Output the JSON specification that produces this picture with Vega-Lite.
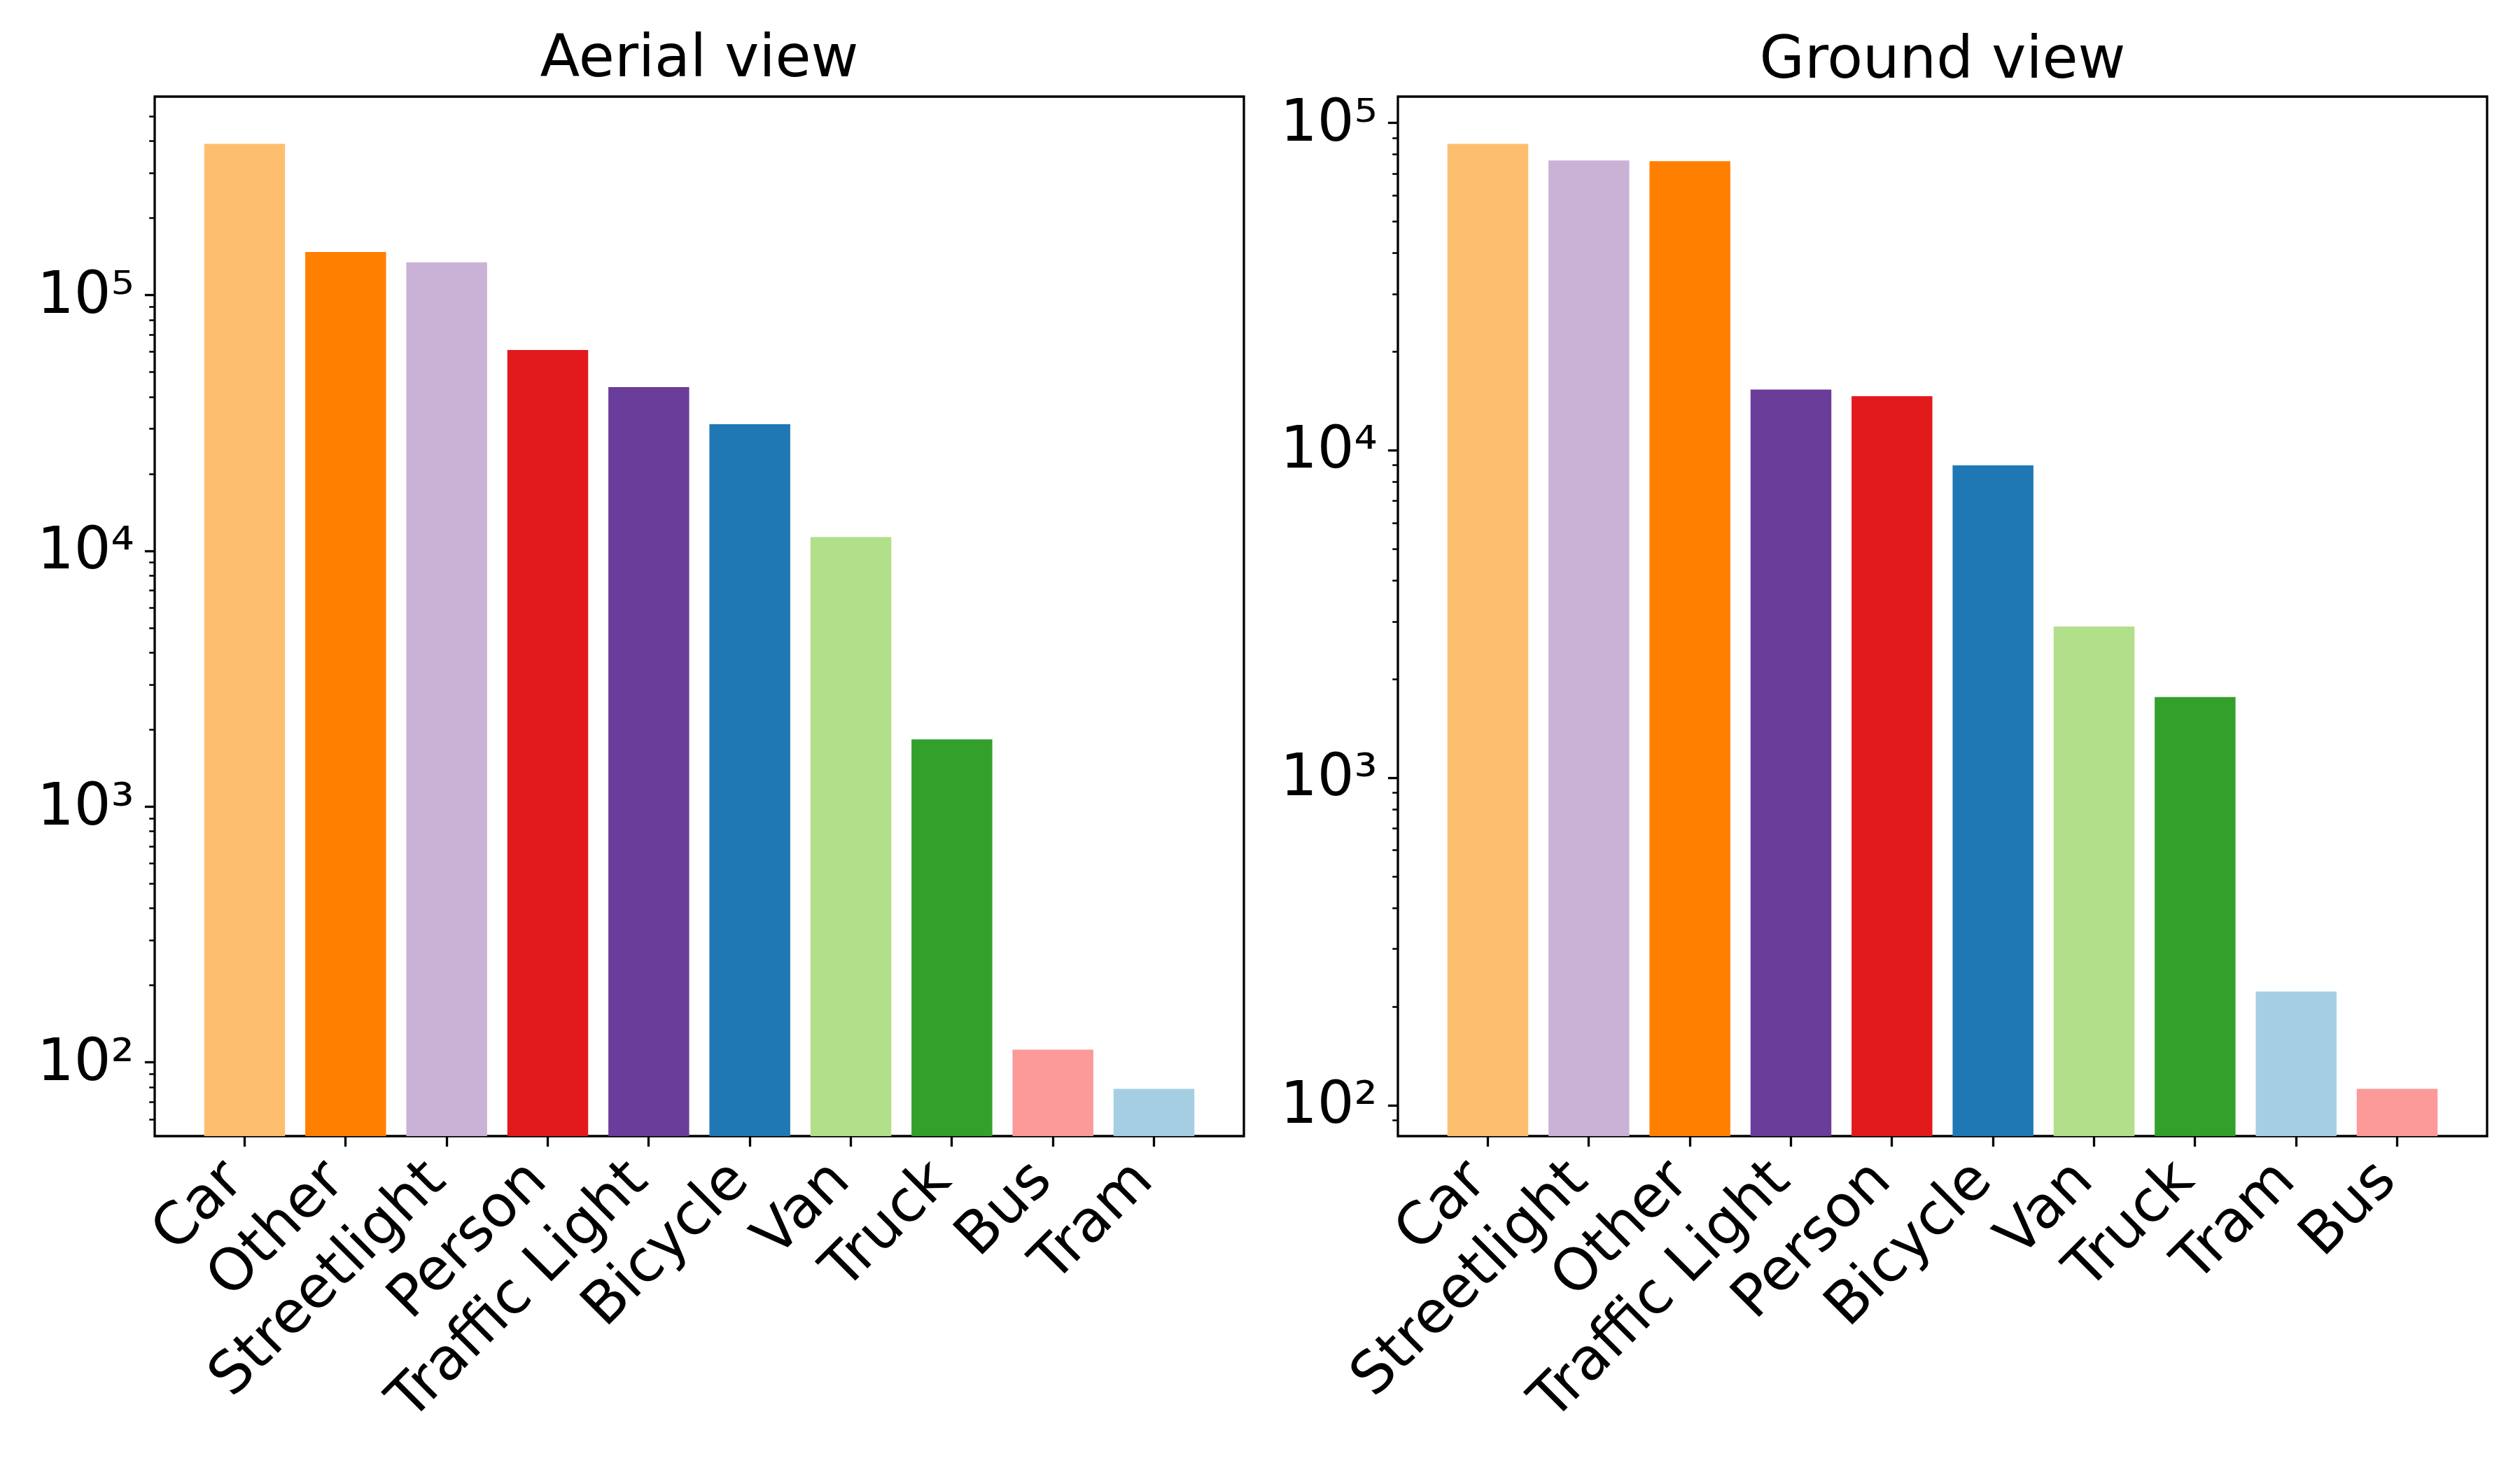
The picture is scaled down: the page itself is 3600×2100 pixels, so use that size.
{
  "$schema": "https://vega.github.io/schema/vega-lite/v6.json",
  "background": "white",
  "padding": {"left": 50, "top": 41, "right": 0, "bottom": 0},
  "bounds": "flush",
  "spacing": 220,
  "hconcat": [
    {
      "title": {"text": "Aerial view", "offset": 12},
      "width": 1556,
      "height": 1485,
      "data": {
        "values": [
          {"category": "Car", "count": 389000},
          {"category": "Other", "count": 147000},
          {"category": "Streetlight", "count": 134000},
          {"category": "Person", "count": 60800},
          {"category": "Traffic Light", "count": 43600},
          {"category": "Bicycle", "count": 31200},
          {"category": "Van", "count": 11300},
          {"category": "Truck", "count": 1830},
          {"category": "Bus", "count": 112},
          {"category": "Tram", "count": 78.7}
        ]
      },
      "mark": "bar",
      "encoding": {
        "x": {
          "field": "category",
          "type": "nominal",
          "sort": null,
          "scale": {"paddingInner": 0.2, "paddingOuter": 0.49},
          "axis": {"title": null}
        },
        "y": {
          "field": "count",
          "type": "quantitative",
          "scale": {"type": "log", "domain": [51.44, 595300], "nice": false, "clamp": true},
          "axis": {
            "title": null,
            "values": [60, 70, 80, 90, 100, 200, 300, 400, 500, 600, 700, 800, 900, 1000, 2000, 3000, 4000, 5000, 6000, 7000, 8000, 9000, 10000, 20000, 30000, 40000, 50000, 60000, 70000, 80000, 90000, 100000, 200000, 300000, 400000, 500000]
          }
        },
        "y2": {"datum": 1},
        "color": {
          "field": "category",
          "type": "nominal",
          "legend": null,
          "scale": {
            "domain": ["Car", "Other", "Streetlight", "Person", "Traffic Light", "Bicycle", "Van", "Truck", "Bus", "Tram"],
            "range": ["#fdbf6f", "#ff7f00", "#cab2d6", "#e31a1c", "#6a3d9a", "#1f78b4", "#b2df8a", "#33a02c", "#fb9a99", "#a6cee3"]
          }
        }
      }
    },
    {
      "title": {"text": "Ground view", "offset": 6},
      "width": 1556,
      "height": 1485,
      "data": {
        "values": [
          {"category": "Car", "count": 86100},
          {"category": "Streetlight", "count": 76600},
          {"category": "Other", "count": 76200},
          {"category": "Traffic Light", "count": 15300},
          {"category": "Person", "count": 14600},
          {"category": "Bicycle", "count": 8980},
          {"category": "Van", "count": 2890},
          {"category": "Truck", "count": 1760},
          {"category": "Tram", "count": 222},
          {"category": "Bus", "count": 112}
        ]
      },
      "mark": "bar",
      "encoding": {
        "x": {
          "field": "category",
          "type": "nominal",
          "sort": null,
          "scale": {"paddingInner": 0.2, "paddingOuter": 0.49},
          "axis": {"title": null}
        },
        "y": {
          "field": "count",
          "type": "quantitative",
          "scale": {"type": "log", "domain": [80.33, 120050], "nice": false, "clamp": true},
          "axis": {
            "title": null,
            "values": [90, 100, 200, 300, 400, 500, 600, 700, 800, 900, 1000, 2000, 3000, 4000, 5000, 6000, 7000, 8000, 9000, 10000, 20000, 30000, 40000, 50000, 60000, 70000, 80000, 90000, 100000]
          }
        },
        "y2": {"datum": 1},
        "color": {
          "field": "category",
          "type": "nominal",
          "legend": null,
          "scale": {
            "domain": ["Car", "Other", "Streetlight", "Person", "Traffic Light", "Bicycle", "Van", "Truck", "Bus", "Tram"],
            "range": ["#fdbf6f", "#ff7f00", "#cab2d6", "#e31a1c", "#6a3d9a", "#1f78b4", "#b2df8a", "#33a02c", "#fb9a99", "#a6cee3"]
          }
        }
      }
    }
  ],
  "resolve": {"scale": {"color": "shared"}},
  "config": {
    "font": "DejaVu Sans",
    "view": {"stroke": "black", "strokeWidth": 3.3},
    "title": {"fontSize": 83, "fontWeight": "normal", "color": "black", "baseline": "alphabetic", "frame": "group"},
    "axis": {
      "domain": false,
      "grid": false,
      "labelFontSize": 83,
      "labelColor": "black",
      "labelLimit": 2000,
      "tickColor": "black",
      "tickSize": 14.6,
      "tickWidth": 3.3,
      "labelPadding": 15
    },
    "axisX": {
      "labelAngle": -45,
      "labelAlign": "right",
      "labelBaseline": "top",
      "labelOffset": -45,
      "labelPadding": 5
    },
    "axisY": {
      "labelOverlap": false,
      "labelExpr": "datum.value == 100 ? '10²' : datum.value == 1000 ? '10³' : datum.value == 10000 ? '10⁴' : datum.value == 100000 ? '10⁵' : ''",
      "labelFontSize": {"condition": {"test": "indexof([100, 1000, 10000, 100000], datum.value) >= 0", "value": 83}, "value": 0},
      "tickSize": {"condition": {"test": "indexof([100, 1000, 10000, 100000], datum.value) >= 0", "value": 14.6}, "value": 8.3},
      "tickWidth": {"condition": {"test": "indexof([100, 1000, 10000, 100000], datum.value) >= 0", "value": 3.3}, "value": 2.5}
    }
  }
}
